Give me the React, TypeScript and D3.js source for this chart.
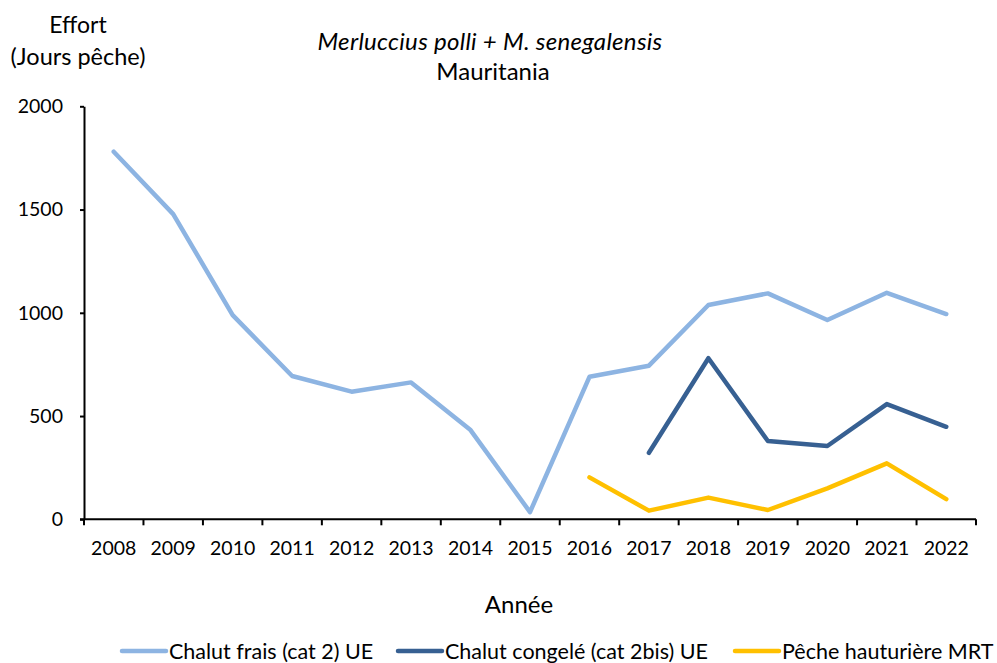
import React, { useRef, useEffect } from "react";
import * as d3 from "d3";

const years = [
  "2008", "2009", "2010", "2011", "2012", "2013", "2014", "2015",
  "2016", "2017", "2018", "2019", "2020", "2021", "2022",
];

// null = no data for that year
const chalutFrais = [1780, 1478, 989, 694, 618, 663, 432, 35, 690, 744, 1038, 1094, 965, 1097, 994];
const chalutCongele = [null, null, null, null, null, null, null, null, null, 322, 780, 379, 355, 558, 448];
const pecheHauturiere = [null, null, null, null, null, null, null, null, 203, 42, 105, 45, 150, 271, 98];

const yTicks = [0, 500, 1000, 1500, 2000];

const series = [
  { name: "Chalut frais (cat 2) UE", values: chalutFrais, color: "#8DB4E2" },
  { name: "Chalut congelé (cat 2bis) UE", values: chalutCongele, color: "#376092" },
  { name: "Pêche hauturière MRT", values: pecheHauturiere, color: "#FFC000" },
];

const FONT = "Lato, 'Open Sans', sans-serif";

const App = () => {
  const ref = useRef<SVGSVGElement>(null);
  const width = 997;
  const height = 663;

  useEffect(() => {
    const svg = d3.select(ref.current);
    svg.selectAll("*").remove();

    const x = d3.scaleBand().domain(years).range([84, 976]).paddingInner(0);
    const y = d3.scaleLinear().domain([0, 2000]).range([519.3, 106.3]);
    const cx = (d: string) => (x(d) as number) + x.bandwidth() / 2;

    const g = svg.append("g").attr("font-family", FONT).attr("fill", "#000");

    // y axis
    const yAxis = g
      .append("g")
      .attr("transform", "translate(84,0)")
      .call(
        d3
          .axisLeft(y)
          .tickValues(yTicks)
          .tickFormat(d3.format("d"))
          .tickSize(4)
          .tickSizeOuter(0)
          .tickPadding(17)
      );
    yAxis.select(".domain").attr("stroke", "#000").attr("stroke-width", 2);
    yAxis.selectAll(".tick line").attr("stroke", "#000").attr("stroke-width", 2);
    yAxis
      .selectAll(".tick text")
      .attr("font-family", FONT)
      .attr("font-size", 19.5)
      .attr("fill", "#000");

    // x axis line + ticks at band boundaries
    const x0 = y(0);
    g.append("line")
      .attr("x1", 80)
      .attr("x2", 976)
      .attr("y1", x0)
      .attr("y2", x0)
      .attr("stroke", "#000")
      .attr("stroke-width", 2);
    const bounds = years.map((d) => x(d) as number).concat([x.range()[1]]);
    g.selectAll(".xtick")
      .data(bounds)
      .enter()
      .append("line")
      .attr("x1", (d) => d)
      .attr("x2", (d) => d)
      .attr("y1", x0)
      .attr("y2", x0 + 6)
      .attr("stroke", "#000")
      .attr("stroke-width", 2);
    g.selectAll(".xlabel")
      .data(years)
      .enter()
      .append("text")
      .attr("x", (d) => cx(d))
      .attr("y", 555)
      .attr("text-anchor", "middle")
      .attr("font-size", 19.5)
      .text((d) => d);

    // lines
    const line = d3
      .line<number | null>()
      .defined((d) => d !== null)
      .x((_, i) => cx(years[i]))
      .y((d) => y(d as number));

    series.forEach((s) => {
      g.append("path")
        .datum(s.values)
        .attr("d", line)
        .attr("fill", "none")
        .attr("stroke", s.color)
        .attr("stroke-width", 4.5)
        .attr("stroke-linejoin", "round")
        .attr("stroke-linecap", "round");
    });

    // titles
    g.append("text")
      .attr("x", 78)
      .attr("y", 33)
      .attr("text-anchor", "middle")
      .attr("font-size", 23)
      .text("Effort");
    g.append("text")
      .attr("x", 78)
      .attr("y", 65)
      .attr("text-anchor", "middle")
      .attr("font-size", 23.5)
      .text("(Jours pêche)");
    g.append("text")
      .attr("x", 490)
      .attr("y", 50)
      .attr("text-anchor", "middle")
      .attr("font-size", 24)
      .attr("font-style", "italic")
      .attr("letter-spacing", 0.3)
      .text("Merluccius polli + M. senegalensis");
    g.append("text")
      .attr("x", 493)
      .attr("y", 80)
      .attr("text-anchor", "middle")
      .attr("font-size", 24)
      .text("Mauritania");
    g.append("text")
      .attr("x", 519)
      .attr("y", 613)
      .attr("text-anchor", "middle")
      .attr("font-size", 24)
      .text("Année");

    // legend
    const legendX = [122, 398, 735];
    const leg = g
      .selectAll(".legend")
      .data(series)
      .enter()
      .append("g")
      .attr("transform", (_, i) => `translate(${legendX[i]},651)`);
    leg
      .append("line")
      .attr("x1", 0)
      .attr("x2", 44)
      .attr("stroke", (d) => d.color)
      .attr("stroke-width", 4.5)
      .attr("stroke-linecap", "round");
    leg
      .append("text")
      .attr("x", 47)
      .attr("y", 7.5)
      .attr("font-size", 21.5)
      .text((d) => d.name);
  }, []);

  return (
    <svg
      ref={ref}
      width={width}
      height={height}
      style={{ position: "absolute", left: 0, top: 0, background: "#fff" }}
    ></svg>
  );
};

export default App;
